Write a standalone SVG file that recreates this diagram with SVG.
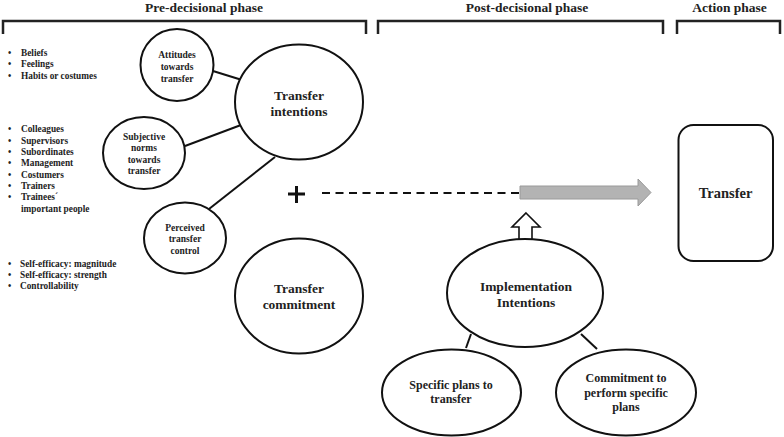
<svg xmlns="http://www.w3.org/2000/svg" width="784" height="437" viewBox="0 0 784 437">
<style>
text{font-family:"Liberation Serif","Times New Roman",serif;font-weight:bold;fill:#222;}
.title{font-size:13.5px;text-anchor:middle;}
.big{font-size:13.5px;text-anchor:middle;}
.mid{font-size:12px;text-anchor:middle;}
.sm{font-size:9.5px;text-anchor:middle;}
.li{font-size:9.3px;}
.node{fill:#fff;stroke:#111;stroke-width:2;}
.br{fill:none;stroke:#222;stroke-width:2.5;}
.ln{stroke:#111;stroke-width:2;fill:none;}
</style>
<rect width="784" height="437" fill="#fff"/>
<g id="phases">
<text class="title" x="204" y="12">Pre-decisional phase</text>
<path class="br" d="M3,34 V21 H366 V34"/>
<text class="title" x="527" y="12">Post-decisional phase</text>
<path class="br" d="M378,34 V21 H663 V34"/>
<text class="title" x="729.5" y="12">Action phase</text>
<path class="br" d="M677,34 V21 H780 V34"/>
</g>
<g id="lists">
<g class="li">
<text x="8" y="56">•</text><text x="21" y="56">Beliefs</text>
<text x="8" y="67">•</text><text x="21" y="67">Feelings</text>
<text x="8" y="79">•</text><text x="21" y="79">Habits or costumes</text>
</g>
<g class="li">
<text x="8" y="132">•</text><text x="21" y="132">Colleagues</text>
<text x="8" y="144">•</text><text x="21" y="144">Supervisors</text>
<text x="8" y="155">•</text><text x="21" y="155">Subordinates</text>
<text x="8" y="166">•</text><text x="21" y="166">Management</text>
<text x="8" y="178">•</text><text x="21" y="178">Costumers</text>
<text x="8" y="189">•</text><text x="21" y="189">Trainers</text>
<text x="8" y="200">•</text><text x="21" y="200">Trainees´</text>
<text x="21" y="212">important people</text>
</g>
<g class="li">
<text x="8" y="267">•</text><text x="20" y="267">Self-efficacy: magnitude</text>
<text x="8" y="278">•</text><text x="20" y="278">Self-efficacy: strength</text>
<text x="8" y="289">•</text><text x="20" y="289">Controllability</text>
</g>
</g>
<g id="connectors">
<line class="ln" x1="213" y1="71" x2="242" y2="80"/>
<line class="ln" x1="185" y1="146" x2="241" y2="125"/>
<line class="ln" x1="209" y1="209" x2="275" y2="157"/>
<line class="ln" x1="471" y1="334" x2="466" y2="348"/>
<line class="ln" x1="581" y1="334" x2="597" y2="349"/>
<line x1="322" y1="193" x2="520" y2="193" stroke="#111" stroke-width="2" stroke-dasharray="8,5.5"/>
<polygon points="520,186 638,186 638,179 651,192.5 638,206 638,199 520,199" fill="#b3b3b3" stroke="#9a9a9a" stroke-width="1"/>
<polygon points="526,213 540,227 532,227 532,240 519,240 519,227 512,227" fill="#fff" stroke="#111" stroke-width="1.6"/>
</g>
<g id="plus">
<path d="M288,194 H305 M296.5,186 V203" stroke="#111" stroke-width="3"/>
</g>
<g id="attitudes">
<ellipse class="node" cx="177" cy="65" rx="36.5" ry="36"/>
<text class="sm" x="177" y="58">Attitudes</text>
<text class="sm" x="177" y="70">towards</text>
<text class="sm" x="177" y="82">transfer</text>
</g>
<g id="subjective">
<ellipse class="node" cx="144" cy="153" rx="41" ry="36"/>
<text class="sm" x="144" y="140">Subjective</text>
<text class="sm" x="144" y="151">norms</text>
<text class="sm" x="144" y="163">towards</text>
<text class="sm" x="144" y="174">transfer</text>
</g>
<g id="perceived">
<ellipse class="node" cx="185" cy="238" rx="41" ry="35.5"/>
<text class="sm" x="185" y="231">Perceived</text>
<text class="sm" x="185" y="242">transfer</text>
<text class="sm" x="185" y="254">control</text>
</g>
<g id="intentions">
<ellipse class="node" cx="299" cy="102" rx="64" ry="57.5"/>
<text class="big" x="299" y="100">Transfer</text>
<text class="big" x="299" y="116">intentions</text>
</g>
<g id="commitment">
<ellipse class="node" cx="299" cy="296" rx="64" ry="57.5"/>
<text class="big" x="299" y="293">Transfer</text>
<text class="big" x="299" y="309">commitment</text>
</g>
<g id="implementation">
<ellipse class="node" cx="525" cy="293" rx="78" ry="54"/>
<text class="big" x="526" y="291">Implementation</text>
<text class="big" x="526" y="307">Intentions</text>
</g>
<g id="specific">
<ellipse class="node" cx="451.5" cy="392.5" rx="69.5" ry="43"/>
<text class="mid" x="451" y="389">Specific plans to</text>
<text class="mid" x="451" y="403">transfer</text>
</g>
<g id="commit-plans">
<ellipse class="node" cx="626" cy="392.5" rx="70" ry="43"/>
<text class="mid" x="626" y="382">Commitment to</text>
<text class="mid" x="626" y="397">perform specific</text>
<text class="mid" x="626" y="411">plans</text>
</g>
<g id="transfer">
<rect class="node" x="678.5" y="125" width="94.5" height="136" rx="15" ry="15"/>
<text x="725.5" y="198" style="font-size:14.5px;text-anchor:middle">Transfer</text>
</g>
</svg>
